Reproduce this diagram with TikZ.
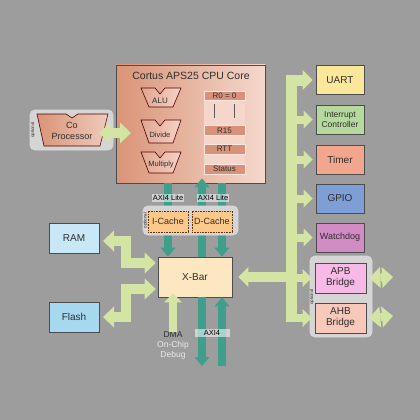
\documentclass[tikz,border=0pt]{standalone}
\usepackage{fontspec}
\setmainfont{Liberation Sans}
\usetikzlibrary{arrows.meta}
\definecolor{bgc}{HTML}{9D9D9D}
\definecolor{cpuA}{HTML}{D99478}
\definecolor{cpuB}{HTML}{F5D8CC}
\definecolor{trA}{HTML}{E2A690}
\definecolor{trB}{HTML}{F6D2C6}
\definecolor{gfill}{HTML}{D4E4A2}
\definecolor{tealc}{HTML}{3F9E8C}
\definecolor{optc}{HTML}{D5D5D5}
\definecolor{uartc}{HTML}{FBE79A}
\definecolor{intc}{HTML}{B6DA9E}
\definecolor{timc}{HTML}{F3A68E}
\definecolor{gpioc}{HTML}{7E9ED6}
\definecolor{wdc}{HTML}{D38BC6}
\definecolor{apbc}{HTML}{F7B9E6}
\definecolor{ahbc}{HTML}{F8C9BA}
\definecolor{ramc}{HTML}{C8E8F8}
\definecolor{flashc}{HTML}{A6D8F0}
\definecolor{xbarc}{HTML}{FDE7C0}
\definecolor{cachec}{HTML}{FCC98A}
\definecolor{regc}{HTML}{D99179}
\definecolor{reglt}{HTML}{F4D6CA}
\definecolor{txt}{HTML}{2E2E2E}
\begin{document}
\begin{tikzpicture}[x=1pt,y=-1pt,
  box/.style={draw=black!70, line width=0.6pt, minimum width=48pt, minimum height=29pt, inner sep=1pt, align=center, text=txt, font=\fontsize{10}{11}\selectfont},
  optbox/.style={draw=white!85!black, fill=optc, rounded corners=5pt, line width=0.8pt, inner sep=0pt},
  optlbl/.style={rotate=90, font=\fontsize{4.5}{5}\selectfont, text=txt, inner sep=0pt},
  gar/.style={draw=gfill, line width=10pt, line join=miter, -{Triangle[width=20pt,length=10pt,line width=0pt]}},
  gdbl/.style={draw=gfill, line width=10pt, line join=miter, {Triangle[width=21pt,length=11pt,line width=0pt]}-{Triangle[width=21pt,length=11pt,line width=0pt]}},
  gbr/.style={draw=gfill, line width=8pt, -{Triangle[width=18pt,length=9pt,line width=0pt]}},
  tar/.style={draw=tealc, line width=8pt, -{Triangle[width=15pt,length=9pt,line width=0pt]}},
  trapst/.style={draw=black!70!red, line width=0.6pt, left color=trA, right color=trB},
  reg/.style={draw=reglt!60!white, fill=regc, line width=0.6pt, minimum width=41pt, inner sep=0pt, text=txt, font=\fontsize{8}{8}\selectfont},
  lbl/.style={text=txt, inner sep=0pt, font=\fontsize{7.5}{8}\selectfont, align=center},
  axil/.style={fill=white, fill opacity=0.55, text opacity=1, text=black, inner sep=1pt, font=\fontsize{7.5}{8}\selectfont},
]
\fill[bgc] (0,0) rectangle (420,420);
\useasboundingbox (0,0) rectangle (420,420);

% ---------- CPU core ----------
\node[draw=black!70, line width=0.8pt, left color=cpuA, right color=cpuB, minimum width=149pt, minimum height=118pt, inner sep=0pt] (cpu) at (190.5,124) {};
\node[text=txt, font=\fontsize{10.5}{12}\selectfont] (title) at (191,76) {Cortus APS25 CPU Core};

\path[trapst] (141,88) -- (155,88) -- (160,94) -- (165,88) -- (181,88) -- (173,107) -- (149,107) -- cycle;
\node[lbl, font=\fontsize{8}{8}\selectfont] (alu) at (160,101) {ALU};
\path[trapst] (141,120) -- (155,120) -- (160,126) -- (165,120) -- (181,120) -- (173,143) -- (149,143) -- cycle;
\node[lbl] (div) at (160,135) {Divide};
\path[trapst] (141,152) -- (155,152) -- (160,158) -- (165,152) -- (181,152) -- (173,173) -- (149,173) -- cycle;
\node[lbl] (mul) at (161,165) {Multiply};

\fill[reglt] (204,91) rectangle (245,174);
\node[reg, minimum height=9pt] (r0) at (224.5,95.5) {R0 = 0};
\draw[black!65, line width=0.8pt] (214,104) -- (214,118) (234,104) -- (234,118);
\node[reg, minimum height=10pt] (r15) at (224.5,130.5) {R15};
\node[reg, minimum height=10pt] (rtt) at (224.5,149) {RTT};
\node[reg, minimum height=10pt] (status) at (224.5,169) {Status};

% ---------- co-processor ----------
\node[optbox, minimum width=83pt, minimum height=40pt] (copt) at (71.5,130) {};
\node[optlbl] (coptl) at (33,130) {optional};
\path[trapst, left color=cpuA, right color=cpuB!80!cpuA] (37,114) -- (66,114) -- (72,118) -- (78,114) -- (108,114) -- (100,146) -- (44,146) -- cycle;
\node[lbl, font=\fontsize{9}{10.5}\selectfont] (coproc) at (72,131) {Co\\Processor};
\coordinate (cpa) at (99,133);
\coordinate (cpb) at (131,133);
\draw[gdbl] (cpa) -- (cpb);

% ---------- right-hand bus ----------
\node[box, fill=uartc] (uart) at (340,80) {UART};
\node[box, fill=intc, font=\fontsize{8.5}{9.5}\selectfont] (intr) at (340,119.5) {Interrupt\\Controller};
\node[box, fill=timc] (timer) at (340,159.5) {Timer};
\node[box, fill=gpioc] (gpio) at (340,198.5) {GPIO};
\node[box, fill=wdc, font=\fontsize{9}{10}\selectfont] (wd) at (340,237.5) {Watchdog};
\node[optbox, minimum width=62pt, minimum height=81pt] (bopt) at (341,296.5) {};
\node[optlbl] (boptl) at (312,297) {optional};
\node[box, fill=apbc, minimum width=51pt, minimum height=30pt] (apb) at (340.5,278) {APB\\Bridge};
\node[box, fill=ahbc, minimum width=51pt, minimum height=30pt] (ahb) at (340.5,318) {AHB\\Bridge};

\coordinate (bbot) at (291.5,322);
\coordinate (btop) at (291.5,80);
\draw[gar, line width=11pt] (bbot) -- (btop) -- ([xshift=-3]uart.west);
\foreach \n/\y in {intr/119.5, timer/159.5, gpio/198.5, wd/237.5, apb/278, ahb/318}{
  \coordinate (br\n) at (291.5,\y);
  \draw[gbr] (br\n) -- ([xshift=-3]\n.west);
}
\coordinate (apbo) at (393,277);
\coordinate (ahbo) at (393,316);
\draw[gdbl, line width=8pt] ([xshift=3]apb.east) -- (apbo);
\draw[gdbl, line width=8pt] ([xshift=3]ahb.east) -- (ahbo);

% ---------- X-Bar ----------
\node[box, fill=xbarc, minimum width=74pt, minimum height=40pt] (xbar) at (195,277) {X-Bar};
\coordinate (bx) at (291.5,277);
\draw[gar] (bx) -- ([xshift=6]xbar.east);

% ---------- memories ----------
\node[box, fill=ramc, minimum width=50pt, minimum height=30pt] (ram) at (74,238) {RAM};
\node[box, fill=flashc, minimum width=50pt, minimum height=30pt] (flash) at (74,317) {Flash};
\coordinate (ra) at (103,241);
\coordinate (rb) at (126,241);
\coordinate (rc) at (126,263);
\draw[gdbl] (ra) -- (rb) -- (rc) -- ([xshift=-2]rc -| xbar.west);
\coordinate (fa) at (103,317);
\coordinate (fb) at (126,317);
\coordinate (fc) at (126,289);
\draw[gdbl] (fa) -- (fb) -- (fc) -- ([xshift=-2]fc -| xbar.west);

% ---------- CPU <-> caches <-> X-Bar ----------
\coordinate (c1) at (168,0);
\coordinate (c2) at (202,0);
\coordinate (c3) at (222,0);
\draw[tar] (c1 |- cpu.south) -- (c1 |- xbar.north);
\draw[tar] (c2 |- xbar.north) -- ([yshift=5]c2 |- cpu.south);
\draw[tar] (c3 |- cpu.south) -- (c3 |- xbar.north);
\node[optbox, minimum width=95pt, minimum height=29pt] (kopt) at (190.5,220.5) {};
\node[optlbl] (koptl) at (145.5,220.5) {optional};
\node[box, fill=cachec, draw=black!60!orange, densely dotted, minimum width=40pt, minimum height=21pt, font=\fontsize{9}{10}\selectfont] (icache) at (168,221.5) {I-Cache};
\node[box, fill=cachec, draw=black!60!orange, densely dotted, minimum width=40pt, minimum height=21pt, font=\fontsize{9}{10}\selectfont] (dcache) at (212,221.5) {D-Cache};
\node[axil] (axl1) at (168,198) {AXI4 Lite};
\node[axil] (axl2) at (213,198) {AXI4 Lite};

% ---------- bottom ----------
\node[align=center, inner sep=0pt, font=\fontsize{8.5}{10}\selectfont] (dma) at (173,345) {\textcolor{txt}{DMA}\\\textcolor{white!92!black}{On-Chip}\\\textcolor{white!92!black}{Debug}};
\draw[gbr] ([yshift=-1]dma.north) -- ([yshift=4]xbar.south -| dma.north);
\coordinate (xa) at (202,366);
\coordinate (xb) at (222,366);
\draw[tar] (c2 |- xbar.south) -- (xa);
\draw[tar] (xb) -- (c3 |- xbar.south);
\node[axil, minimum width=35pt] (axi) at (212,333) {AXI4};
\end{tikzpicture}
\end{document}
